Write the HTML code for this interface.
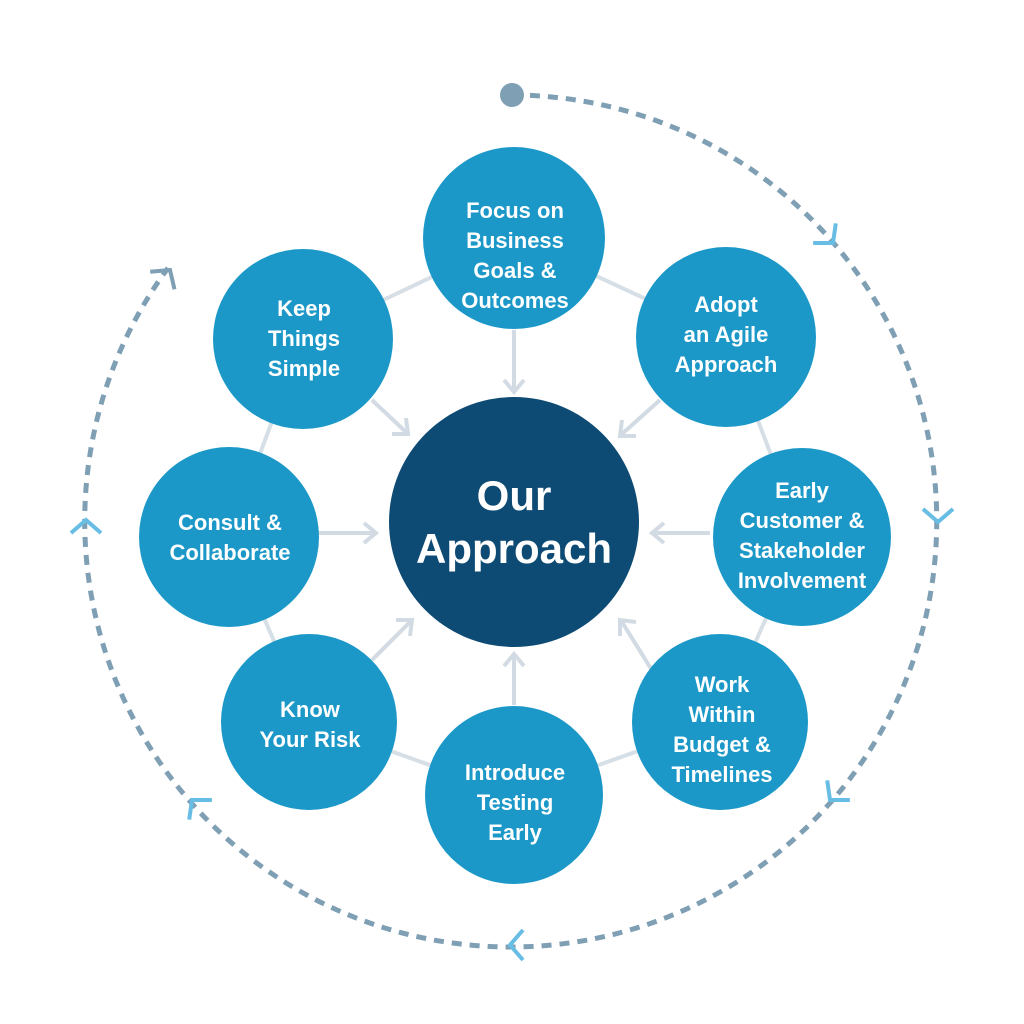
<!DOCTYPE html>
<html><head><meta charset="utf-8"><style>
html,body{margin:0;padding:0;background:#fff;}
svg{display:block}
text{font-family:"Liberation Sans",sans-serif;fill:#fff;text-anchor:middle;}
.n{font-size:22px;font-weight:bold;}
</style></head><body>
<svg width="1024" height="1024" viewBox="0 0 1024 1024">
<path d="M512,95 A426,426 0 1 1 168,268" fill="none" stroke="#7f9fb4" stroke-width="5" stroke-dasharray="10,8"/>
<circle cx="512" cy="95" r="12" fill="#7f9fb4"/>
<g fill="none" stroke="#67bde4" stroke-width="4">
<polyline points="-13,-15 0,0 -13,15" transform="translate(833,243) rotate(49)"/>
<polyline points="-13,-15 0,0 -13,15" transform="translate(938,522) rotate(90)"/>
<polyline points="-13,-15 0,0 -13,15" transform="translate(830,800) rotate(131)"/>
<polyline points="-13,-15 0,0 -13,15" transform="translate(510,945) rotate(180)"/>
<polyline points="-13,-15 0,0 -13,15" transform="translate(192,800) rotate(229)"/>
<polyline points="-13,-15 0,0 -13,15" transform="translate(86,520) rotate(270)"/>
</g>
<polyline points="-13,-15 0,0 -13,15" transform="translate(170,270) rotate(306)" fill="none" stroke="#7f9fb4" stroke-width="4"/>
<polygon points="514,238 726,336 802,537 720,722 514,795 309,722 229,537 303,338" fill="none" stroke="#d7dfe6" stroke-width="4"/>
<g fill="none" stroke="#d2dbe3" stroke-width="4">
<line x1="514" y1="330" x2="514" y2="390"/><polyline points="504,380 514,392 524,380"/>
<line x1="660" y1="400" x2="622" y2="434"/><polyline points="622,420 620,436 636,436"/>
<line x1="710" y1="533" x2="652" y2="533"/><polyline points="664,523 652,533 664,543"/>
<line x1="658" y1="680" x2="622" y2="622"/><polyline points="620,636 620,620 636,622"/>
<line x1="514" y1="705" x2="514" y2="656"/><polyline points="504,666 514,654 524,666"/>
<line x1="372" y1="660" x2="410" y2="622"/><polyline points="396,620 412,620 410,636"/>
<line x1="318" y1="533" x2="376" y2="533"/><polyline points="364,523 376,533 364,543"/>
<line x1="372" y1="400" x2="408" y2="434"/><polyline points="392,434 408,434 406,418"/>
</g>
<circle cx="514" cy="522" r="125" fill="#0e4b74"/>
<text x="514" y="510" style="font-size:42px;font-weight:bold">Our</text>
<text x="514" y="563" style="font-size:42px;font-weight:bold">Approach</text>
<g fill="#1b98c8">
<circle cx="514" cy="238" r="91"/>
<circle cx="726" cy="337" r="90"/>
<circle cx="802" cy="537" r="89"/>
<circle cx="720" cy="722" r="88"/>
<circle cx="514" cy="795" r="89"/>
<circle cx="309" cy="722" r="88"/>
<circle cx="229" cy="537" r="90"/>
<circle cx="303" cy="339" r="90"/>
</g>
<g class="n">
<text x="515" y="218">Focus on</text><text x="515" y="248">Business</text><text x="515" y="278">Goals &amp;</text><text x="515" y="308">Outcomes</text>
<text x="726" y="312">Adopt</text><text x="726" y="342">an Agile</text><text x="726" y="372">Approach</text>
<text x="802" y="498">Early</text><text x="802" y="528">Customer &amp;</text><text x="802" y="558">Stakeholder</text><text x="802" y="588">Involvement</text>
<text x="722" y="692">Work</text><text x="722" y="722">Within</text><text x="722" y="752">Budget &amp;</text><text x="722" y="782">Timelines</text>
<text x="515" y="780">Introduce</text><text x="515" y="810">Testing</text><text x="515" y="840">Early</text>
<text x="310" y="717">Know</text><text x="310" y="747">Your Risk</text>
<text x="230" y="530">Consult &amp;</text><text x="230" y="560">Collaborate</text>
<text x="304" y="316">Keep</text><text x="304" y="346">Things</text><text x="304" y="376">Simple</text>
</g>
</svg>
</body></html>
